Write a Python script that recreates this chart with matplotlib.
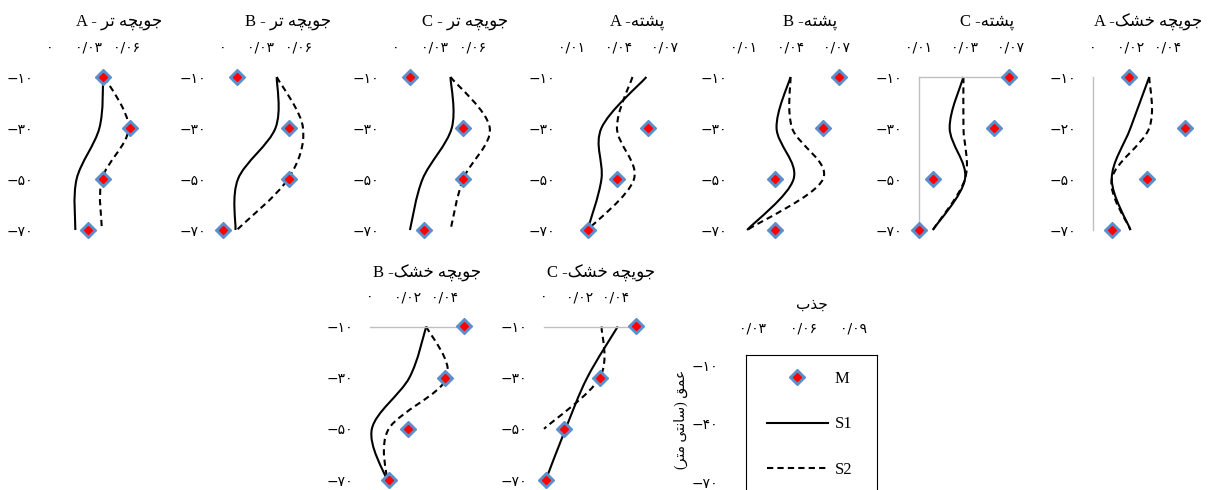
import numpy as np
import matplotlib
matplotlib.use("Agg")
import matplotlib.pyplot as plt
from matplotlib.path import Path
from matplotlib.patches import PathPatch
from matplotlib.lines import Line2D

nan = np.nan

# depths (cm)
depth = [-10, -30, -50, -70]

# Persian words written in visual (left-to-right) order with presentation forms,
# since matplotlib does no Arabic shaping
WET = "\uFEAE\uFE97 \uFEEA\uFB7D\uFBFE\uFEEE\uFE9F"        # جویچه تر
RIDGE = "\uFEEA\uFE98\uFEB8\uFB58"                          # پشته
DRY = "\uFB8F\uFEB8\uFEA7 \uFEEA\uFB7D\uFBFE\uFEEE\uFE9F"   # جویچه خشک
ABSORB = "\uFE8F\uFEAC\uFE9F"                               # جذب
DEPTH = "(\uFEAE\uFE98\uFEE3 \uFBFD\uFE98\uFEE7\uFE8E\uFEB3) \uFED6\uFEE4\uFECB"  # عمق (سانتی متر)

titles = ["A - " + WET, "B - " + WET, "C - " + WET,
          "A -" + RIDGE, "B -" + RIDGE, "C -" + RIDGE,
          "A -" + DRY, "B -" + DRY, "C -" + DRY]

xticks = [[0, 0.03, 0.06]] * 3 + [[0.01, 0.04, 0.07]] * 3 + [[0, 0.02, 0.04]] * 3
xticklabels = [["۰", "۰/۰۳", "۰/۰۶"]] * 3 + \
              [["۰/۰۱", "۰/۰۴", "۰/۰۷"], ["۰/۰۱", "۰/۰۴", "۰/۰۷"], ["۰/۰۱", "۰/۰۳", "۰/۰۷"]] + \
              [["۰", "۰/۰۲", "۰/۰۴"]] * 3
yticklabels = [["−۱۰", "−۳۰", "−۵۰", "−۷۰"]] * 6 + [["−۱۰", "−۲۰", "−۵۰", "−۷۰"]] + \
              [["−۱۰", "−۳۰", "−۵۰", "−۷۰"]] * 2

# measured (M) and simulated (S1, S2) absorption
m_vals = [
    [0.042, 0.063, 0.042, 0.030],
    [0.011, 0.053, 0.053, 0.000],
    [0.011, 0.053, 0.053, 0.022],
    [nan, 0.059, 0.039, 0.020],
    [0.071, 0.061, 0.030, 0.030],
    [0.069, 0.059, 0.019, 0.010],
    [0.019, 0.049, 0.029, 0.010],
    [0.050, 0.040, 0.020, 0.010],
    [0.051, 0.031, 0.011, 0.001],
]
s1_vals = [
    [0.042, 0.039, 0.021, 0.020],
    [0.043, 0.042, 0.012, 0.010],
    [0.043, 0.044, 0.021, 0.011],
    [0.058, 0.029, 0.029, 0.020],
    [0.040, 0.031, 0.042, 0.012],
    [0.039, 0.030, 0.040, 0.019],
    [0.030, 0.020, 0.010, 0.020],
    [0.030, 0.021, 0.001, 0.009],
    [0.041, 0.024, 0.012, 0.001],
]
s2_vals = [
    [0.043, 0.062, 0.041, 0.041],
    [0.043, 0.064, 0.052, 0.011],
    [0.043, 0.074, 0.053, 0.043],
    [0.049, 0.039, 0.050, 0.020],
    [0.040, 0.041, 0.061, 0.012],
    [0.039, 0.039, 0.040, 0.019],
    [0.030, 0.030, 0.010, 0.020],
    [0.030, 0.041, 0.010, 0.009],
    [0.032, 0.031, 0.000, nan],
]

# layout in pixels: (pixel of xlim low, pixels per unit, xlim low, xlim high, row)
layout = [(50, 1267, 0, 0.07, 0), (223, 1250, 0, 0.07, 0), (396, 1267, 0, 0.08, 0),
          (572, 1550, 0.01, 0.075, 0), (744, 1550, 0.01, 0.075, 0), (919, 1533, 0.01, 0.07, 0),
          (1093, 1875, 0, 0.06, 0), (370, 1875, 0, 0.05, 1), (544, 1800, 0, 0.05, 1)]
rows = [(77, 230), (326.5, 480)]
title_pos = [(119, 22), (288, 22), (465, 22), (637, 22), (810, 22), (987, 22),
             (1148, 22), (427, 273), (601, 273)]
grey_spines = {5: ["left", "top"], 6: ["left"], 7: ["top"], 8: ["top"]}

W, H = 1210, 490
BLUE = "#5B8FCB"
FONT = ["Liberation Serif", "DejaVu Sans"]


def smooth_path(xs, ys):
    # Excel-like smoothed line (Catmull-Rom as cubic Bezier)
    pts = [(x, y) for x, y in zip(xs, ys) if not np.isnan(x)]
    verts = [pts[0]]
    codes = [Path.MOVETO]
    for i in range(len(pts) - 1):
        p0 = pts[i - 1] if i > 0 else pts[i]
        p1, p2 = pts[i], pts[i + 1]
        p3 = pts[i + 2] if i + 2 < len(pts) else p2
        c1 = (p1[0] + (p2[0] - p0[0]) / 6, p1[1] + (p2[1] - p0[1]) / 6)
        c2 = (p2[0] - (p3[0] - p1[0]) / 6, p2[1] - (p3[1] - p1[1]) / 6)
        verts += [c1, c2, p2]
        codes += [Path.CURVE4] * 3
    return Path(verts, codes)


def px_axes(fig, left, right, top, bottom):
    return fig.add_axes([left / W, 1 - bottom / H, (right - left) / W, (bottom - top) / H])


fig = plt.figure(figsize=(W / 100, H / 100), dpi=100)

for i in range(9):
    x0, ppu, lo, hi, row = layout[i]
    top, bottom = rows[row]
    ax = px_axes(fig, x0, x0 + (hi - lo) * ppu, top, bottom)
    ax.set_xlim(lo, hi)
    ax.set_ylim(-70, -10)
    ax.patch.set_visible(False)

    ax.add_patch(PathPatch(smooth_path(s1_vals[i], depth), fill=False, ec="black",
                           lw=1.5, clip_on=False, zorder=2))
    ax.add_patch(PathPatch(smooth_path(s2_vals[i], depth), fill=False, ec="black",
                           lw=1.5, ls=(0, (3, 2)), clip_on=False, zorder=2))
    ax.plot(m_vals[i], depth, "D", color=BLUE, ms=8, mec=BLUE, clip_on=False, zorder=3)
    ax.plot(m_vals[i], depth, "D", color="red", ms=4, mec="red", clip_on=False, zorder=4)

    ax.xaxis.tick_top()
    ax.set_xticks(xticks[i], xticklabels[i])
    ax.set_yticks(depth, yticklabels[i])
    ax.tick_params(axis="x", length=0, labelsize=10, pad=16)
    ax.tick_params(axis="y", length=0, labelsize=10, pad=12)
    for name, sp in ax.spines.items():
        if name in grey_spines.get(i, []):
            sp.set_color("#BFBFBF")
            sp.set_linewidth(1)
        else:
            sp.set_visible(False)

    tx, ty = title_pos[i]
    fig.text(tx / W, 1 - ty / H, titles[i], ha="center", va="center",
             fontsize=12, family=FONT)

# legend panel
lax = px_axes(fig, 746, 877, 355, 490)
lax.set_xlim(0.0258, 0.1044)
lax.set_ylim(-73.6, -4.9)
lax.xaxis.tick_top()
lax.set_xticks([0.03, 0.06, 0.09], ["۰/۰۳", "۰/۰۶", "۰/۰۹"])
lax.set_yticks([-10, -40, -70], ["−۱۰", "−۴۰", "−۷۰"])
lax.tick_params(length=0, labelsize=10)
lax.tick_params(axis="x", pad=14)
lax.tick_params(axis="y", pad=20)
lax.spines["bottom"].set_visible(False)
lax.xaxis.set_label_position("top")
lax.set_xlabel(ABSORB, fontsize=11, family=FONT, labelpad=9)
lax.set_ylabel(DEPTH, fontsize=10, family=FONT)
lax.yaxis.set_label_coords(-0.44, 0.52)

m_handle = (Line2D([], [], ls="none", marker="D", ms=8, color=BLUE),
            Line2D([], [], ls="none", marker="D", ms=4, color="red"))
s1_handle = Line2D([], [], color="black", lw=1.5)
s2_handle = Line2D([], [], color="black", lw=1.5, ls=(0, (3, 2)))
lax.legend([m_handle, s1_handle, s2_handle], ["M", "S1", "S2"],
           loc="upper left", bbox_to_anchor=(0.16, 0.88), frameon=False,
           handlelength=3.65, handletextpad=0.4, labelspacing=1.75,
           borderpad=0, borderaxespad=0, prop={"family": FONT, "size": 12})

fig.savefig("out.png", dpi=100)
